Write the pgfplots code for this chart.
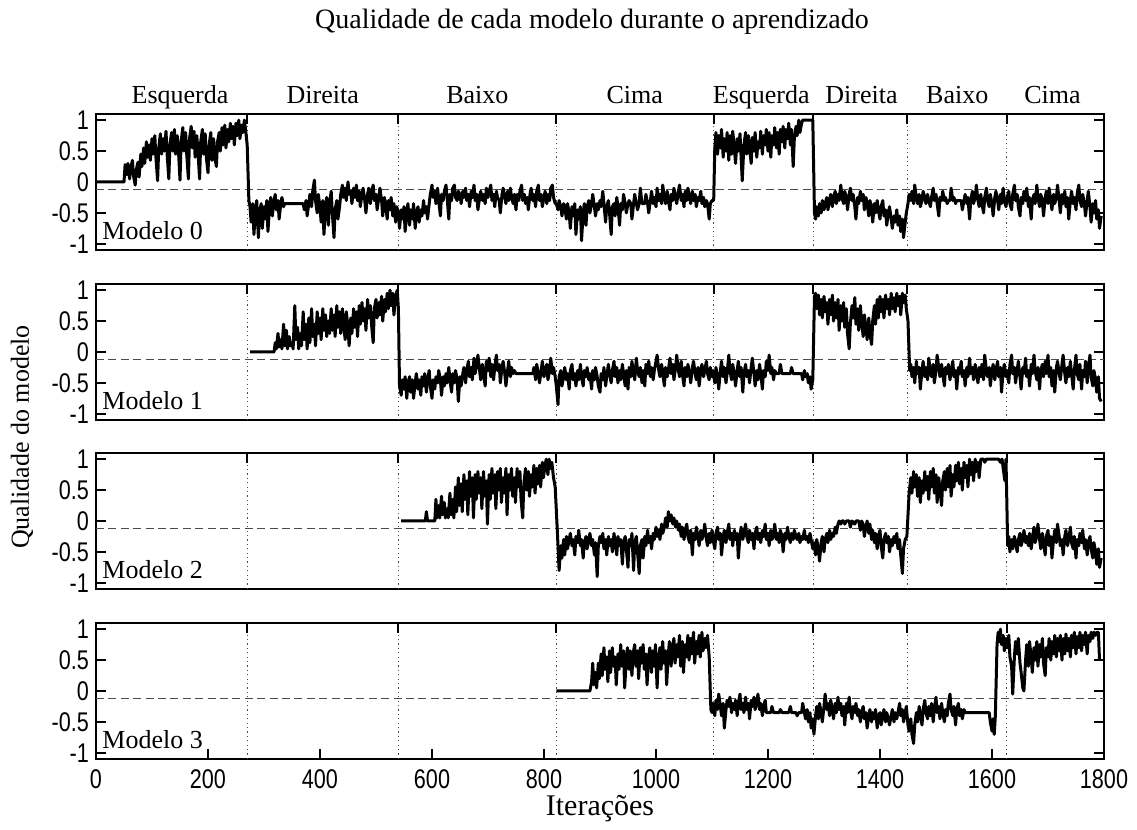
\documentclass[border=0pt]{standalone}
\usepackage{fontspec}
\setmainfont{Liberation Serif}
\newfontfamily\tickfam[FakeStretch=0.8]{Liberation Sans}
\usepackage{pgfplots}
\pgfplotsset{compat=1.18}
\newcommand{\lbl}{\fontsize{13}{15}\selectfont}
\newcommand{\ttl}{\fontsize{14}{16}\selectfont}
\newcommand{\tickfont}{\tickfam\fontsize{13.5}{15}\selectfont}
\pgfplotsset{
  panel/.style={
    scale only axis, width=504pt, height=68pt,
    xmin=0, xmax=1800, ymin=-1.1, ymax=1.1,
    ytick={-1,-0.5,0,0.5,1}, yticklabels={-1,-0.5,0,0.5,1},
    xtick=\empty,
    axis line style={line width=1.2pt},
    major tick length=5pt,
    tick style={black, line width=1pt},
    tick align=inside,
    ticklabel style={font=\tickfont},
    clip=false,
  },
  data/.style={black, line width=1.5pt, line join=round, mark=none},
  ref/.style={black!70, line width=0.6pt, dash pattern=on 4pt off 2.2pt, mark=none},
}
\begin{document}
\begin{tikzpicture}
\useasboundingbox (0,0) rectangle (568.5pt,415pt);
% ---------------- Modelo 0 ----------------
\begin{axis}[panel, at={(48pt,290pt)}, anchor=south west]
\pgfplotsinvokeforeach{270,540,822,1103,1281,1449,1626}{
  \draw[black!70, line width=0.5pt, dash pattern=on 0.6pt off 1.6pt] (axis cs:#1,-1.1) -- (axis cs:#1,1.1);
  \draw[black, line width=1pt] (axis cs:#1,1.1) -- (axis cs:#1,0.94);
}
\addplot[ref] coordinates {(0,-0.12) (1800,-0.12)};
\addplot[data] coordinates {
(0,0)(50,0)(52,0.28)(55,0.12)(57,0.30)(60,0.05)(62,0.22)(65,0.35)(67,0.10)(70,-0.05)(72,0.20)(75,0.32)(77,0.08)
(80,0.45)(82,0.25)(85,0.55)(87,0.30)(90,0.65)(92,0.40)(95,0.60)(97,0.35)
(100,0.70)(102,0.45)(105,0.75)(107,0.40)(110,0.02)(112,0.55)(115,0.78)(117,0.45)(120,0.70)(122,0.50)(125,0.82)(127,0.45)(130,0.05)(132,0.60)(135,0.80)(137,0.50)(140,0.85)(142,0.45)(145,0.75)(147,0.55)
(150,0.03)(152,0.65)(155,0.88)(157,0.50)(160,0.80)(162,0.45)(165,0.05)(167,0.70)(170,0.90)(172,0.55)(175,0.82)(177,0.40)(180,0.75)(182,0.50)(185,0.05)(187,0.65)(190,0.85)(192,0.45)(195,0.78)(197,0.40)
(200,0.15)(202,0.60)(205,0.80)(207,0.35)(210,0.70)(212,0.40)(215,0.25)(217,0.65)(220,0.80)(222,0.50)(225,0.88)(227,0.60)(230,0.92)(232,0.55)(235,0.85)(237,0.65)(240,0.95)(242,0.70)(245,0.90)(247,0.60)
(250,0.95)(252,0.75)(255,1.00)(257,0.70)(260,0.92)(262,0.80)(265,1.00)(267,0.85)(270,0.60)(273,-0.30)
(275,-0.40)(277,-0.65)(280,-0.35)(282,-0.85)(285,-0.45)(287,-0.30)(290,-0.90)(292,-0.50)(295,-0.35)(297,-0.75)(300,-0.40)(302,-0.60)(305,-0.30)(307,-0.80)(310,-0.40)(312,-0.25)(315,-0.55)(317,-0.35)(320,-0.20)(322,-0.45)(325,-0.30)(327,-0.60)(330,-0.35)(332,-0.25)(335,-0.40)(337,-0.35)
(340,-0.35)(370,-0.35)(372,-0.45)(375,-0.30)(377,-0.55)(380,-0.35)(382,-0.20)(385,-0.40)(387,-0.15)(390,0.03)(392,-0.30)(395,-0.50)(397,-0.20)(400,-0.40)(402,-0.65)(405,-0.30)(407,-0.85)(410,-0.40)(412,-0.25)(415,-0.70)(417,-0.35)(420,-0.15)(422,-0.50)(425,-0.90)(427,-0.45)(430,-0.30)(432,-0.60)(435,-0.40)(437,-0.20)
(440,-0.05)(442,-0.25)(445,-0.10)(447,-0.30)(450,0.00)(452,-0.20)(455,-0.15)(457,-0.35)(460,-0.10)(462,-0.25)(465,-0.05)(467,-0.30)(470,-0.15)(472,-0.40)(475,-0.20)(477,-0.10)(480,-0.30)(482,-0.50)(485,-0.20)(487,-0.10)(490,-0.35)(492,-0.15)(495,-0.05)(497,-0.30)(500,-0.20)(502,-0.45)(505,-0.25)(507,-0.10)(510,-0.30)(512,-0.55)(515,-0.25)(517,-0.35)(520,-0.60)(522,-0.30)(525,-0.45)(527,-0.25)(530,-0.55)(532,-0.35)(535,-0.65)(537,-0.40)
(540,-0.50)(542,-0.75)(545,-0.45)(547,-0.60)(550,-0.40)(552,-0.80)(555,-0.50)(557,-0.35)(560,-0.70)(562,-0.45)(565,-0.60)(567,-0.35)(570,-0.75)(572,-0.50)(575,-0.40)(577,-0.65)(580,-0.45)(582,-0.55)(585,-0.30)(587,-0.50)(590,-0.40)(592,-0.60)(595,-0.35)(597,-0.20)
(600,-0.05)(602,-0.25)(605,-0.15)(607,-0.35)(610,-0.10)(612,-0.30)(615,-0.55)(617,-0.20)(620,-0.30)(622,-0.15)(625,-0.05)(627,-0.25)(630,-0.60)(632,-0.20)(635,-0.30)(637,-0.10)(640,-0.05)(642,-0.25)(645,-0.30)(647,-0.15)(650,-0.20)(652,-0.35)(655,-0.15)(657,-0.25)(660,-0.10)(662,-0.30)(665,-0.20)(667,-0.40)(670,-0.15)(672,-0.25)(675,-0.05)(677,-0.30)(680,-0.20)(682,-0.45)(685,-0.25)(687,-0.15)(690,-0.30)(692,-0.20)(695,-0.35)(697,-0.10)
(700,-0.25)(702,-0.15)(705,-0.05)(707,-0.30)(710,-0.20)(712,-0.40)(715,-0.15)(717,-0.25)(720,-0.30)(722,-0.50)(725,-0.20)(727,-0.10)(730,-0.25)(732,-0.35)(735,-0.15)(737,-0.30)(740,-0.10)(742,-0.25)(745,-0.35)(747,-0.20)(750,-0.45)(752,-0.20)(755,-0.30)(757,-0.15)(760,-0.05)(762,-0.30)(765,-0.20)(767,-0.35)(770,-0.25)(772,-0.45)(775,-0.20)(777,-0.10)(780,-0.30)(782,-0.20)(785,-0.40)(787,-0.15)(790,-0.05)(792,-0.30)(795,-0.20)(797,-0.40)
(800,-0.25)(802,-0.15)(805,-0.35)(807,-0.20)(810,-0.30)(812,-0.10)(815,-0.05)(817,-0.25)(820,-0.35)
(822,-0.35)(825,-0.45)(827,-0.30)(830,-0.40)(832,-0.55)(835,-0.35)(837,-0.40)(840,-0.60)(842,-0.35)(845,-0.50)(847,-0.75)(850,-0.40)(852,-0.55)(855,-0.35)(857,-0.85)(860,-0.45)(862,-0.60)(865,-0.40)(867,-0.95)(870,-0.50)(872,-0.35)(875,-0.70)(877,-0.40)(880,-0.30)(882,-0.50)(885,-0.35)(887,-0.20)(890,-0.40)(892,-0.55)(895,-0.35)(897,-0.45)
(900,-0.30)(902,-0.40)(905,-0.15)(907,-0.35)(910,-0.65)(912,-0.40)(915,-0.30)(917,-0.50)(920,-0.85)(922,-0.40)(925,-0.35)(927,-0.55)(930,-0.25)(932,-0.40)(935,-0.70)(937,-0.35)(940,-0.45)(942,-0.20)(945,-0.35)(947,-0.50)(950,-0.35)(952,-0.30)(955,-0.35)(957,-0.60)(960,-0.35)(962,-0.20)(965,-0.35)(967,-0.45)(970,-0.35)(972,-0.10)
(975,-0.35)(980,-0.35)(982,-0.20)(985,-0.35)(987,-0.50)(990,-0.30)(992,-0.15)(995,-0.35)(997,-0.25)(1000,-0.40)(1002,-0.10)(1005,-0.30)(1007,-0.20)(1010,-0.35)(1012,-0.05)(1015,-0.25)(1017,-0.35)(1020,-0.15)(1022,-0.30)(1025,-0.45)(1027,-0.20)(1030,-0.30)(1032,-0.10)(1035,-0.25)(1037,-0.35)(1040,-0.15)(1042,-0.05)(1045,-0.30)(1047,-0.20)(1050,-0.40)
(1052,-0.15)(1055,-0.30)(1057,-0.10)(1060,-0.25)(1062,-0.35)(1065,-0.15)(1067,-0.30)(1070,-0.20)(1072,-0.40)(1075,-0.25)(1077,-0.30)(1080,-0.15)(1082,-0.35)(1085,-0.25)(1087,-0.40)(1090,-0.30)(1092,-0.35)(1095,-0.60)(1097,-0.35)(1100,-0.30)
(1103,-0.30)(1105,0.55)(1107,0.80)(1110,0.45)(1112,0.75)(1115,0.55)(1117,0.85)(1120,0.40)(1122,0.70)(1125,0.50)(1127,0.80)(1130,0.35)(1132,0.75)(1135,0.45)(1137,0.82)(1140,0.55)(1142,0.30)(1145,0.70)(1147,0.50)(1150,0.78)
(1152,0.40)(1154,0.02)(1157,0.60)(1160,0.80)(1162,0.45)(1165,0.75)(1167,0.55)(1170,0.30)(1172,0.72)(1175,0.50)(1177,0.80)(1180,0.40)(1182,0.65)(1185,0.55)(1187,0.82)(1190,0.45)(1192,0.75)(1195,0.60)(1197,0.85)(1200,0.50)
(1202,0.80)(1205,0.40)(1207,0.75)(1210,0.60)(1212,0.88)(1215,0.55)(1217,0.80)(1220,0.45)(1222,0.85)(1225,0.65)(1227,0.90)(1230,0.55)(1232,0.85)(1235,0.70)(1237,0.95)(1240,0.60)(1242,0.85)(1245,0.25)(1247,0.70)(1250,0.90)
(1252,0.75)(1255,1.00)(1257,0.80)(1260,0.95)(1262,1.00)(1280,1.00)(1283,-0.50)
(1285,-0.60)(1287,-0.40)(1290,-0.55)(1292,-0.35)(1295,-0.50)(1297,-0.30)(1300,-0.45)(1302,-0.35)(1305,-0.25)(1307,-0.45)(1310,-0.30)(1312,-0.20)(1315,-0.40)(1317,-0.25)(1320,-0.15)(1322,-0.35)(1325,-0.20)(1327,-0.30)(1330,-0.05)(1332,-0.25)(1335,-0.35)(1337,-0.15)(1340,-0.25)(1342,-0.45)(1345,-0.20)(1347,-0.10)(1350,-0.30)(1352,-0.20)(1355,-0.40)(1357,-0.60)(1360,-0.25)(1362,-0.35)(1365,-0.15)(1367,-0.30)(1370,-0.20)(1372,-0.45)(1375,-0.25)(1377,-0.35)(1380,-0.55)
(1382,-0.30)(1385,-0.40)(1387,-0.65)(1390,-0.35)(1392,-0.50)(1395,-0.30)(1397,-0.45)(1400,-0.60)(1402,-0.40)(1405,-0.30)(1407,-0.55)(1410,-0.45)(1412,-0.70)(1415,-0.50)(1417,-0.40)(1420,-0.60)(1422,-0.75)(1425,-0.55)(1427,-0.65)(1430,-0.45)(1432,-0.70)(1435,-0.55)(1437,-0.80)(1440,-0.60)(1442,-0.90)(1445,-0.65)(1447,-0.50)(1450,-0.35)
(1452,-0.20)(1455,-0.30)(1457,-0.15)(1460,-0.35)(1462,-0.05)(1465,-0.25)(1467,-0.35)(1470,-0.20)(1472,-0.40)(1475,-0.30)(1477,-0.15)(1480,-0.25)(1482,-0.35)(1485,-0.20)(1487,-0.30)(1490,-0.40)(1492,-0.25)(1495,-0.10)(1497,-0.30)(1500,-0.20)(1502,-0.35)(1505,-0.55)(1507,-0.25)(1510,-0.30)(1512,-0.15)(1515,-0.30)(1517,-0.25)(1520,-0.35)(1522,-0.30)(1525,-0.30)(1527,-0.10)(1530,-0.30)(1532,-0.25)(1535,-0.35)(1537,-0.30)(1540,-0.30)(1545,-0.30)(1547,-0.45)(1550,-0.30)
(1552,-0.20)(1555,-0.35)(1557,-0.25)(1560,-0.60)(1562,-0.30)(1565,-0.15)(1567,-0.35)(1570,-0.25)(1572,-0.05)(1575,-0.30)(1577,-0.40)(1580,-0.20)(1582,-0.35)(1585,-0.50)(1587,-0.25)(1590,-0.10)(1592,-0.30)(1595,-0.40)(1597,-0.20)(1600,-0.35)(1602,-0.55)(1605,-0.25)(1607,-0.15)(1610,-0.30)(1612,-0.45)(1615,-0.20)(1617,-0.35)(1620,-0.10)(1622,-0.30)(1625,-0.40)
(1627,-0.25)(1630,-0.15)(1632,-0.35)(1635,-0.45)(1637,-0.20)(1640,-0.05)(1642,-0.30)(1645,-0.20)(1647,-0.40)(1650,-0.55)(1652,-0.25)(1655,-0.35)(1657,-0.15)(1660,-0.30)(1662,-0.10)(1665,-0.40)(1667,-0.25)(1670,-0.60)(1672,-0.30)(1675,-0.20)(1677,-0.35)(1680,-0.05)(1682,-0.25)(1685,-0.40)(1687,-0.20)(1690,-0.30)(1692,-0.55)(1695,-0.25)(1697,-0.15)(1700,-0.35)
(1702,-0.10)(1705,-0.30)(1707,-0.45)(1710,-0.20)(1712,-0.35)(1715,-0.25)(1717,-0.05)(1720,-0.30)(1722,-0.50)(1725,-0.20)(1727,-0.35)(1730,-0.15)(1732,-0.40)(1735,-0.25)(1737,-0.60)(1740,-0.30)(1742,-0.15)(1745,-0.35)(1747,-0.25)(1750,-0.45)(1752,-0.20)(1755,-0.05)(1757,-0.30)(1760,-0.40)(1762,-0.20)(1765,-0.35)(1767,-0.55)(1770,-0.30)(1772,-0.15)(1775,-0.40)
(1777,-0.65)(1780,-0.35)(1782,-0.50)(1785,-0.30)(1787,-0.60)(1790,-0.45)(1792,-0.75)(1795,-0.55)
};
\node[anchor=base west, font=\lbl, inner sep=0pt, xshift=3pt, yshift=5pt] at (rel axis cs:0,0) {Modelo 0};
\node[anchor=base, font=\lbl, inner sep=0pt, yshift=5pt] at (axis cs:150,1.1) {Esquerda};
\node[anchor=base, font=\lbl, inner sep=0pt, yshift=5pt] at (axis cs:405,1.1) {Direita};
\node[anchor=base, font=\lbl, inner sep=0pt, yshift=5pt] at (axis cs:681,1.1) {Baixo};
\node[anchor=base, font=\lbl, inner sep=0pt, yshift=5pt] at (axis cs:962,1.1) {Cima};
\node[anchor=base, font=\lbl, inner sep=0pt, yshift=5pt] at (axis cs:1188,1.1) {Esquerda};
\node[anchor=base, font=\lbl, inner sep=0pt, yshift=5pt] at (axis cs:1367,1.1) {Direita};
\node[anchor=base, font=\lbl, inner sep=0pt, yshift=5pt] at (axis cs:1538,1.1) {Baixo};
\node[anchor=base, font=\lbl, inner sep=0pt, yshift=5pt] at (axis cs:1708,1.1) {Cima};
\end{axis}
% ---------------- Modelo 1 ----------------
\begin{axis}[panel, at={(48pt,205pt)}, anchor=south west]
\pgfplotsinvokeforeach{270,540,822,1103,1281,1449,1626}{
  \draw[black!70, line width=0.5pt, dash pattern=on 0.6pt off 1.6pt] (axis cs:#1,-1.1) -- (axis cs:#1,1.1);
  \draw[black, line width=1pt] (axis cs:#1,1.1) -- (axis cs:#1,0.94);
}
\addplot[ref] coordinates {(0,-0.12) (1800,-0.12)};
\addplot[data] coordinates {
(275,0)(318,0)
(320,0.15)(322,0.05)(325,0.30)(327,0.08)(330,0.20)(332,0.05)(335,0.45)(337,0.10)(340,0.35)(342,0.05)(345,0.25)(347,0.10)(350,0.15)(352,0.05)(355,0.75)(357,0.20)(360,0.40)(362,0.05)(365,0.30)
(367,0.10)(370,0.65)(372,0.20)(375,0.45)(377,0.05)(380,0.55)(382,0.15)(385,0.70)(387,0.25)(390,0.45)(392,0.10)(395,0.65)(397,0.30)(400,0.55)(402,0.20)(405,0.70)(407,0.35)(410,0.60)(412,0.25)(415,0.50)
(417,0.30)(420,0.70)(422,0.35)(425,0.60)(427,0.25)(430,0.75)(432,0.40)(435,0.65)(437,0.30)(440,0.70)(442,0.45)(445,0.20)(447,0.65)(450,0.40)(452,0.10)(455,0.55)(457,0.30)(460,0.70)(462,0.40)(465,0.65)
(467,0.25)(470,0.75)(472,0.45)(475,0.80)(477,0.50)(480,0.70)(482,0.35)(485,0.85)(487,0.55)(490,0.75)(492,0.45)(495,0.15)(497,0.70)(500,0.85)(502,0.55)(505,0.80)(507,0.60)(510,0.90)(512,0.50)(515,0.85)
(517,0.65)(520,0.95)(522,0.70)(525,1.00)(527,0.75)(530,0.95)(532,0.60)(535,0.90)(538,1.00)(540,0.70)(542,-0.55)
(545,-0.70)(547,-0.45)(550,-0.60)(552,-0.40)(555,-0.75)(557,-0.50)(560,-0.40)(562,-0.65)(565,-0.45)(567,-0.75)(570,-0.50)(572,-0.35)(575,-0.60)(577,-0.45)(580,-0.70)(582,-0.40)(585,-0.55)(587,-0.35)(590,-0.65)(592,-0.45)(595,-0.30)(597,-0.55)(600,-0.75)(602,-0.45)(605,-0.60)(607,-0.40)(610,-0.50)(612,-0.30)(615,-0.45)(617,-0.70)(620,-0.40)(622,-0.55)(625,-0.35)(627,-0.50)(630,-0.25)(632,-0.45)(635,-0.65)(637,-0.35)(640,-0.50)
(642,-0.30)(645,-0.45)(647,-0.80)(650,-0.40)(652,-0.55)(655,-0.35)(657,-0.25)(660,-0.50)(662,-0.30)(665,-0.15)(667,-0.40)(670,-0.25)(672,-0.45)(675,-0.10)(677,-0.35)(680,-0.20)(682,-0.05)(685,-0.30)(687,-0.45)(690,-0.20)(692,-0.35)(695,-0.55)(697,-0.15)(700,-0.30)(702,-0.10)(705,-0.40)(707,-0.20)(710,-0.45)(712,-0.25)(715,-0.05)(717,-0.30)(720,-0.20)(722,-0.50)(725,-0.25)(727,-0.15)(730,-0.35)(732,-0.55)(735,-0.30)(737,-0.15)(740,-0.40)(742,-0.25)(745,-0.35)(747,-0.30)(750,-0.35)
(780,-0.35)(782,-0.25)(785,-0.45)(787,-0.20)(790,-0.35)(792,-0.50)(795,-0.30)(797,-0.15)(800,-0.40)(802,-0.30)(805,-0.20)(807,-0.45)(810,-0.30)(812,-0.10)(815,-0.35)(817,-0.25)(820,-0.40)
(822,-0.55)(825,-0.85)(827,-0.40)(830,-0.30)(832,-0.55)(835,-0.40)(837,-0.25)(840,-0.45)(842,-0.35)(845,-0.60)(847,-0.30)(850,-0.20)(852,-0.45)(855,-0.35)(857,-0.55)(860,-0.30)(862,-0.45)(865,-0.20)(867,-0.40)(870,-0.55)(872,-0.30)(875,-0.40)(877,-0.25)(880,-0.45)(882,-0.35)(885,-0.60)(887,-0.30)(890,-0.45)(892,-0.25)(895,-0.40)(897,-0.55)(900,-0.65)(902,-0.35)(905,-0.45)(907,-0.25)(910,-0.55)(912,-0.40)(915,-0.20)(917,-0.35)(920,-0.50)
(922,-0.30)(925,-0.15)(927,-0.40)(930,-0.25)(932,-0.50)(935,-0.30)(937,-0.45)(940,-0.20)(942,-0.35)(945,-0.55)(947,-0.30)(950,-0.60)(952,-0.25)(955,-0.40)(957,-0.15)(960,-0.35)(962,-0.45)(965,-0.10)(967,-0.30)(970,-0.40)(972,-0.25)(975,-0.50)(977,-0.30)(980,-0.55)(982,-0.20)(985,-0.35)(987,-0.15)(990,-0.40)(992,-0.25)(995,-0.45)(997,-0.30)(1000,-0.15)(1002,-0.05)(1005,-0.30)(1007,-0.40)(1010,-0.20)(1012,-0.35)(1015,-0.55)(1017,-0.25)(1020,-0.40)
(1022,-0.30)(1025,-0.10)(1027,-0.35)(1030,-0.20)(1032,-0.45)(1035,-0.25)(1037,-0.05)(1040,-0.30)(1042,-0.40)(1045,-0.15)(1047,-0.35)(1050,-0.55)(1052,-0.25)(1055,-0.40)(1057,-0.20)(1060,-0.35)(1062,-0.50)(1065,-0.25)(1067,-0.15)(1070,-0.35)(1072,-0.45)(1075,-0.25)(1077,-0.55)(1080,-0.30)(1082,-0.20)(1085,-0.40)(1087,-0.30)(1090,-0.15)(1092,-0.35)(1095,-0.45)(1097,-0.25)(1100,-0.40)
(1102,-0.30)(1105,-0.50)(1107,-0.25)(1110,-0.40)(1112,-0.60)(1115,-0.30)(1117,-0.15)(1120,-0.40)(1122,-0.25)(1125,-0.50)(1127,-0.35)(1130,-0.05)(1132,-0.30)(1135,-0.45)(1137,-0.20)(1140,-0.35)(1142,-0.55)(1145,-0.30)(1147,-0.15)(1150,-0.40)(1152,-0.25)(1155,-0.65)(1157,-0.35)(1160,-0.20)(1162,-0.40)(1165,-0.30)(1167,-0.50)(1170,-0.25)(1172,-0.10)(1175,-0.35)(1177,-0.55)(1180,-0.30)(1182,-0.45)(1185,-0.20)(1187,-0.35)(1190,-0.60)(1192,-0.30)(1195,-0.40)(1197,-0.15)(1200,-0.30)
(1202,-0.05)(1205,-0.35)(1207,-0.25)(1210,-0.45)(1212,-0.30)(1215,-0.35)(1220,-0.35)(1222,-0.20)(1225,-0.35)(1240,-0.35)(1242,-0.25)(1245,-0.35)(1260,-0.35)(1262,-0.45)(1265,-0.30)(1267,-0.40)(1270,-0.35)(1272,-0.50)(1275,-0.40)(1277,-0.60)(1280,-0.45)
(1283,0.90)(1285,0.95)(1287,0.70)(1290,0.92)(1292,0.60)(1295,0.85)(1297,0.55)(1300,0.90)(1302,0.65)(1305,0.80)(1307,0.45)(1310,0.85)(1312,0.60)(1315,0.92)(1317,0.50)(1320,0.80)(1322,0.55)(1325,0.85)(1327,0.35)(1330,0.75)
(1332,0.50)(1335,0.80)(1337,0.40)(1340,0.70)(1342,0.30)(1345,0.05)(1347,0.45)(1350,0.75)(1352,0.55)(1355,0.88)(1357,0.45)(1360,0.70)(1362,0.35)(1365,0.75)(1367,0.50)(1370,0.25)(1372,0.60)(1375,0.40)(1377,0.20)(1380,0.55)
(1382,0.30)(1385,0.12)(1387,0.50)(1390,0.75)(1392,0.45)(1395,0.85)(1397,0.55)(1400,0.90)(1402,0.65)(1405,0.85)(1407,0.55)(1410,0.92)(1412,0.70)(1415,0.85)(1417,0.60)(1420,0.95)(1422,0.70)(1425,0.88)(1427,0.65)(1430,0.95)
(1432,0.75)(1435,0.90)(1437,0.60)(1440,0.95)(1442,0.80)(1445,0.92)(1447,0.70)(1450,0.50)(1453,-0.30)
(1455,-0.20)(1457,-0.40)(1460,-0.25)(1462,-0.50)(1465,-0.15)(1467,-0.35)(1470,-0.25)(1472,-0.60)(1475,-0.30)(1477,-0.15)(1480,-0.40)(1482,-0.25)(1485,-0.45)(1487,-0.10)(1490,-0.30)(1492,-0.40)(1495,-0.20)(1497,-0.50)(1500,-0.30)
(1502,-0.05)(1505,-0.25)(1507,-0.40)(1510,-0.20)(1512,-0.35)(1515,-0.55)(1517,-0.25)(1520,-0.35)(1522,-0.20)(1525,-0.45)(1527,-0.30)(1530,-0.15)(1532,-0.40)(1535,-0.30)(1537,-0.60)(1540,-0.25)(1542,-0.35)(1545,-0.15)(1547,-0.40)(1550,-0.30)
(1552,-0.55)(1555,-0.25)(1557,-0.40)(1560,-0.10)(1562,-0.35)(1565,-0.25)(1567,-0.45)(1570,-0.20)(1572,-0.35)(1575,-0.50)(1577,-0.25)(1580,-0.40)(1582,-0.20)(1585,-0.45)(1587,-0.05)(1590,-0.30)(1592,-0.40)(1595,-0.25)(1597,-0.55)(1600,-0.30)
(1602,-0.20)(1605,-0.45)(1607,-0.30)(1610,-0.15)(1612,-0.40)(1615,-0.25)(1617,-0.65)(1620,-0.30)(1622,-0.20)(1625,-0.40)(1627,-0.30)(1630,-0.50)(1632,-0.20)(1635,-0.05)(1637,-0.35)(1640,-0.25)(1642,-0.50)(1645,-0.30)(1647,-0.15)(1650,-0.40)
(1652,-0.60)(1655,-0.25)(1657,-0.35)(1660,-0.10)(1662,-0.40)(1665,-0.30)(1667,-0.55)(1670,-0.20)(1672,-0.35)(1675,-0.05)(1677,-0.30)(1680,-0.45)(1682,-0.25)(1685,-0.60)(1687,-0.30)(1690,-0.20)(1692,-0.40)(1695,-0.15)(1697,-0.35)(1700,-0.05)
(1702,-0.40)(1705,-0.25)(1707,-0.55)(1710,-0.30)(1712,-0.65)(1715,-0.25)(1717,-0.15)(1720,-0.35)(1722,-0.45)(1725,-0.20)(1727,-0.05)(1730,-0.35)(1732,-0.50)(1735,-0.25)(1737,-0.40)(1740,-0.15)(1742,-0.35)(1745,-0.60)(1747,-0.30)(1750,-0.05)
(1752,-0.35)(1755,-0.45)(1757,-0.20)(1760,-0.60)(1762,-0.30)(1765,-0.40)(1767,-0.15)(1770,-0.50)(1772,-0.25)(1775,-0.05)(1777,-0.40)(1780,-0.55)(1782,-0.30)(1785,-0.45)(1787,-0.65)(1790,-0.40)(1792,-0.75)(1795,-0.80)
};
\node[anchor=base west, font=\lbl, inner sep=0pt, xshift=3pt, yshift=5pt] at (rel axis cs:0,0) {Modelo 1};
\end{axis}
% ---------------- Modelo 2 ----------------
\begin{axis}[panel, at={(48pt,120.5pt)}, anchor=south west]
\pgfplotsinvokeforeach{270,540,822,1103,1281,1449,1626}{
  \draw[black!70, line width=0.5pt, dash pattern=on 0.6pt off 1.6pt] (axis cs:#1,-1.1) -- (axis cs:#1,1.1);
  \draw[black, line width=1pt] (axis cs:#1,1.1) -- (axis cs:#1,0.94);
}
\addplot[ref] coordinates {(0,-0.12) (1800,-0.12)};
\addplot[data] coordinates {
(545,0)(588,0)(590,0.15)(592,0)(605,0)
(607,0.35)(609,0.05)(612,0.25)(614,0.05)(617,0.40)(619,0.10)(622,0.30)(624,0.05)(627,0.20)(629,0.05)(632,0.45)(634,0.10)(637,0.35)(639,0.05)(642,0.55)(644,0.15)(647,0.70)(649,0.25)(652,0.60)
(654,0.15)(657,0.75)(659,0.35)(662,0.65)(664,0.10)(667,0.80)(669,0.40)(672,0.70)(674,0.05)(677,0.75)(679,0.35)(682,0.80)(684,0.45)(687,0.70)(689,0.20)(692,0.80)(694,0.40)(697,0.65)(699,-0.05)(702,0.75)
(704,0.35)(707,0.85)(709,0.45)(712,0.75)(714,0.20)(717,0.80)(719,0.50)(722,0.85)(724,0.30)(727,0.70)(729,0.45)(732,0.85)(734,0.10)(737,0.75)(739,0.50)(742,0.85)(744,0.40)(747,0.70)(749,0.30)(752,0.85)
(754,0.55)(757,0.80)(759,0.35)(762,0.05)(764,0.60)(767,0.85)(769,0.50)(772,0.80)(774,0.40)(777,0.75)(779,0.55)(782,0.90)(784,0.45)(787,0.85)(789,0.60)(792,0.90)(794,0.55)(797,0.95)(799,0.70)(802,0.90)
(804,1.00)(807,0.75)(809,1.00)(812,0.85)(814,0.95)(817,0.70)(820,0.55)(824,-0.20)
(827,-0.80)(830,-0.40)(832,-0.60)(835,-0.30)(837,-0.55)(840,-0.25)(842,-0.45)(845,-0.30)(847,-0.20)(850,-0.40)(852,-0.30)(855,-0.55)(857,-0.25)(860,-0.35)(862,-0.15)(865,-0.40)(867,-0.30)(870,-0.60)(872,-0.35)(875,-0.25)(877,-0.45)(880,-0.30)(882,-0.20)(885,-0.40)(887,-0.30)(890,-0.55)(892,-0.35)(895,-0.90)(897,-0.40)(900,-0.25)
(902,-0.35)(905,-0.20)(907,-0.45)(910,-0.30)(912,-0.55)(915,-0.25)(917,-0.40)(920,-0.30)(922,-0.50)(925,-0.20)(927,-0.35)(930,-0.55)(932,-0.25)(935,-0.40)(937,-0.30)(940,-0.70)(942,-0.35)(945,-0.25)(947,-0.45)(950,-0.75)(952,-0.30)(955,-0.40)(957,-0.20)(960,-0.80)(962,-0.35)(965,-0.25)(967,-0.50)(970,-0.85)(972,-0.40)(975,-0.30)
(977,-0.60)(980,-0.25)(982,-0.40)(985,-0.15)(987,-0.35)(990,-0.25)(992,-0.45)(995,-0.20)(997,-0.30)(1000,-0.10)(1002,-0.25)(1005,-0.15)(1007,-0.30)(1010,-0.05)(1012,-0.20)(1015,-0.10)(1017,0.05)(1020,-0.10)(1022,0.15)(1025,0.00)(1027,0.10)(1030,-0.05)(1032,0.05)(1035,-0.10)(1037,0.00)(1040,-0.15)(1042,-0.05)(1045,-0.25)(1047,-0.10)(1050,-0.30)
(1052,-0.15)(1055,-0.05)(1057,-0.25)(1060,-0.35)(1062,-0.15)(1065,-0.55)(1067,-0.20)(1070,-0.30)(1072,-0.10)(1075,-0.25)(1077,-0.40)(1080,-0.15)(1082,-0.30)(1085,-0.20)(1087,-0.05)(1090,-0.30)(1092,-0.40)(1095,-0.20)(1097,-0.35)(1100,-0.15)
(1102,-0.30)(1105,-0.45)(1107,-0.20)(1110,-0.10)(1112,-0.30)(1115,-0.20)(1117,-0.55)(1120,-0.25)(1122,-0.15)(1125,-0.35)(1127,-0.20)(1130,-0.05)(1132,-0.30)(1135,-0.20)(1137,-0.40)(1140,-0.15)(1142,-0.30)(1145,-0.20)(1147,-0.60)(1150,-0.25)
(1152,-0.10)(1155,-0.30)(1157,-0.20)(1160,-0.05)(1162,-0.25)(1165,-0.35)(1167,-0.15)(1170,-0.30)(1172,-0.20)(1175,-0.45)(1177,-0.20)(1180,-0.10)(1182,-0.30)(1185,-0.20)(1187,-0.35)(1190,-0.15)(1192,-0.25)(1195,-0.05)(1197,-0.30)(1200,-0.20)
(1202,-0.40)(1205,-0.15)(1207,-0.30)(1210,-0.25)(1212,-0.05)(1215,-0.30)(1217,-0.20)(1220,-0.35)(1222,-0.15)(1225,-0.25)(1227,-0.50)(1230,-0.20)(1232,-0.30)(1235,-0.10)(1237,-0.25)(1240,-0.35)(1242,-0.20)(1245,-0.30)(1247,-0.15)(1250,-0.25)
(1252,-0.30)(1255,-0.20)(1257,-0.35)(1260,-0.25)(1262,-0.30)(1265,-0.15)(1267,-0.30)(1270,-0.25)(1272,-0.35)(1275,-0.20)(1277,-0.30)(1280,-0.45)
(1282,-0.35)(1285,-0.55)(1287,-0.30)(1290,-0.45)(1292,-0.65)(1295,-0.35)(1297,-0.25)(1300,-0.50)(1302,-0.30)(1305,-0.20)(1307,-0.35)(1310,-0.15)(1312,-0.30)(1315,-0.20)(1317,-0.25)(1320,-0.10)(1322,-0.20)(1325,-0.05)(1327,0.00)(1330,-0.05)
(1332,0.00)(1335,0.00)(1337,-0.05)(1340,0.00)(1345,0.00)(1347,-0.10)(1350,0.00)(1355,-0.05)(1357,0.00)(1362,0.00)(1365,-0.15)(1367,0.00)(1370,-0.05)(1372,-0.25)(1375,-0.10)(1377,0.00)(1380,-0.20)(1382,-0.05)(1385,-0.30)(1387,-0.15)
(1390,-0.35)(1392,-0.20)(1395,-0.45)(1397,-0.25)(1400,-0.15)(1402,-0.40)(1405,-0.60)(1407,-0.30)(1410,-0.20)(1412,-0.35)(1415,-0.25)(1417,-0.50)(1420,-0.30)(1422,-0.40)(1425,-0.25)(1427,-0.35)(1430,-0.20)(1432,-0.45)(1435,-0.30)(1437,-0.55)
(1440,-0.85)(1442,-0.45)(1445,-0.30)(1448,-0.25)
(1452,0.45)(1455,0.70)(1457,0.45)(1460,0.80)(1462,0.55)(1465,0.75)(1467,0.40)(1470,0.70)(1472,0.30)(1475,0.65)(1477,0.45)(1480,0.80)(1482,0.50)(1485,0.72)(1487,0.35)(1490,0.80)(1492,0.55)(1495,0.85)(1497,0.45)(1500,0.75)
(1502,0.30)(1505,0.70)(1507,0.50)(1510,0.25)(1512,0.65)(1515,0.80)(1517,0.50)(1520,0.85)(1522,0.55)(1525,0.90)(1527,0.40)(1530,0.75)(1532,0.55)(1535,0.90)(1537,0.65)(1540,0.95)(1542,0.60)(1545,0.85)(1547,0.50)(1550,0.95)
(1552,0.70)(1555,0.90)(1557,0.55)(1560,1.00)(1562,0.75)(1565,0.95)(1567,0.65)(1570,1.00)(1572,0.80)(1575,0.95)(1577,0.70)(1580,1.00)(1585,1.00)(1587,0.95)(1590,1.00)(1612,1.00)(1615,0.95)(1618,1.00)(1620,0.85)(1623,0.65)(1625,1.00)
(1628,-0.40)(1630,-0.25)(1632,-0.50)(1635,-0.30)(1637,-0.45)(1640,-0.25)(1642,-0.35)(1645,-0.50)(1647,-0.30)(1650,-0.20)(1652,-0.40)(1655,-0.30)(1657,-0.15)(1660,-0.35)(1662,-0.25)(1665,-0.40)(1667,-0.20)(1670,-0.45)(1672,-0.30)(1675,-0.10)
(1677,-0.35)(1680,-0.25)(1682,-0.05)(1685,-0.30)(1687,-0.45)(1690,-0.20)(1692,-0.35)(1695,-0.55)(1697,-0.25)(1700,-0.15)(1702,-0.40)(1705,-0.25)(1707,-0.60)(1710,-0.30)(1712,-0.15)(1715,-0.35)(1717,-0.05)(1720,-0.25)(1722,-0.40)(1725,-0.30)
(1727,-0.55)(1730,-0.25)(1732,-0.15)(1735,-0.40)(1737,-0.30)(1740,-0.10)(1742,-0.35)(1745,-0.45)(1747,-0.25)(1750,-0.60)(1752,-0.30)(1755,-0.40)(1757,-0.20)(1760,-0.35)(1762,-0.15)(1765,-0.45)(1767,-0.30)(1770,-0.55)(1772,-0.35)(1775,-0.25)
(1777,-0.45)(1780,-0.60)(1782,-0.35)(1785,-0.50)(1787,-0.70)(1790,-0.45)(1792,-0.75)(1795,-0.60)
};
\node[anchor=base west, font=\lbl, inner sep=0pt, xshift=3pt, yshift=5pt] at (rel axis cs:0,0) {Modelo 2};
\end{axis}
% ---------------- Modelo 3 ----------------
\begin{axis}[panel, at={(48pt,35.5pt)}, anchor=south west,
  xtick={0,200,400,600,800,1000,1200,1400,1600,1800},
  xticklabels={0,200,400,600,800,1000,1200,1400,1600,1800},
  xtick pos=left, xticklabel style={yshift=-2pt}]
\pgfplotsinvokeforeach{270,540,822,1103,1281,1449,1626}{
  \draw[black!70, line width=0.5pt, dash pattern=on 0.6pt off 1.6pt] (axis cs:#1,-1.1) -- (axis cs:#1,1.1);
  \draw[black, line width=1pt] (axis cs:#1,1.1) -- (axis cs:#1,0.94);
}
\addplot[ref] coordinates {(0,-0.12) (1800,-0.12)};
\addplot[data] coordinates {
(822,0)(882,0)
(885,0.15)(887,0.45)(889,0.10)(892,0.30)(894,0.05)(897,0.45)(899,0.20)(902,0.60)(904,0.25)(907,0.70)(909,0.35)(912,0.55)(914,0.15)(917,0.65)(919,0.30)(922,0.70)(924,0.40)(927,0.55)(929,0.10)
(932,0.60)(934,0.35)(937,0.75)(939,0.40)(942,0.65)(944,0.05)(947,0.50)(949,0.70)(952,0.35)(954,0.65)(957,0.25)(959,0.60)(962,0.75)(964,0.40)(967,0.65)(969,0.20)(972,0.70)(974,0.45)(977,0.75)(979,0.35)
(982,0.60)(984,0.10)(987,0.55)(989,0.70)(992,0.30)(994,0.65)(997,0.40)(999,0.75)(1002,0.05)(1004,0.50)(1007,0.70)(1009,0.35)(1012,0.80)(1014,0.45)(1017,0.65)(1019,0.10)(1022,0.60)(1024,0.80)(1027,0.40)(1029,0.70)
(1032,0.85)(1034,0.45)(1037,0.75)(1039,0.55)(1042,0.90)(1044,0.40)(1047,0.80)(1049,0.30)(1052,0.75)(1054,0.55)(1057,0.90)(1059,0.50)(1062,0.85)(1064,0.60)(1067,0.95)(1069,0.45)(1072,0.80)(1074,0.60)(1077,0.90)(1079,0.55)
(1082,0.95)(1084,0.65)(1087,0.85)(1089,0.70)(1092,0.90)(1095,0.55)
(1098,-0.30)(1100,-0.35)(1102,-0.20)(1105,-0.40)(1107,-0.15)(1110,-0.30)(1112,-0.05)(1115,-0.25)(1117,-0.40)(1120,-0.20)(1122,-0.60)(1125,-0.30)(1127,-0.15)(1130,-0.25)(1132,-0.10)(1135,-0.35)(1137,-0.20)(1140,-0.30)(1142,-0.15)(1145,-0.40)
(1147,-0.20)(1150,-0.05)(1152,-0.30)(1155,-0.20)(1157,-0.35)(1160,-0.10)(1162,-0.30)(1165,-0.20)(1167,-0.45)(1170,-0.15)(1172,-0.25)(1175,-0.10)(1177,-0.30)(1180,-0.20)(1182,-0.05)(1185,-0.30)(1187,-0.20)(1190,-0.40)(1192,-0.25)(1195,-0.15)
(1197,-0.35)(1200,-0.35)(1205,-0.35)(1207,-0.25)(1210,-0.35)(1220,-0.35)(1222,-0.30)(1225,-0.35)(1237,-0.35)(1240,-0.25)(1242,-0.35)(1250,-0.35)(1252,-0.40)(1255,-0.35)(1260,-0.35)(1262,-0.20)(1265,-0.35)(1267,-0.45)(1270,-0.30)(1272,-0.50)(1275,-0.35)(1277,-0.60)(1280,-0.45)
(1282,-0.70)(1285,-0.40)(1287,-0.25)(1290,-0.45)(1292,-0.20)(1295,-0.35)(1297,-0.50)(1300,-0.25)(1302,-0.05)(1305,-0.30)(1307,-0.20)(1310,-0.40)(1312,-0.15)(1315,-0.30)(1317,-0.45)(1320,-0.20)(1322,-0.35)(1325,-0.10)(1327,-0.30)(1330,-0.20)
(1332,-0.40)(1335,-0.25)(1337,-0.55)(1340,-0.20)(1342,-0.35)(1345,-0.10)(1347,-0.30)(1350,-0.45)(1352,-0.25)(1355,-0.35)(1357,-0.20)(1360,-0.40)(1362,-0.30)(1365,-0.50)(1367,-0.35)(1370,-0.25)(1372,-0.45)(1375,-0.35)(1377,-0.60)(1380,-0.40)
(1382,-0.30)(1385,-0.50)(1387,-0.35)(1390,-0.45)(1392,-0.30)(1395,-0.60)(1397,-0.40)(1400,-0.35)(1402,-0.55)(1405,-0.40)(1407,-0.30)(1410,-0.50)(1412,-0.35)(1415,-0.45)(1417,-0.55)(1420,-0.40)(1422,-0.30)(1425,-0.50)(1427,-0.35)(1430,-0.45)
(1432,-0.35)(1435,-0.20)(1437,-0.40)(1440,-0.30)(1442,-0.50)(1445,-0.35)(1447,-0.25)(1450,-0.55)(1452,-0.65)(1455,-0.45)(1457,-0.70)(1460,-0.85)(1462,-0.55)(1465,-0.35)(1467,-0.50)(1470,-0.25)(1472,-0.40)(1475,-0.55)(1477,-0.30)(1480,-0.15)
(1482,-0.35)(1485,-0.45)(1487,-0.25)(1490,-0.40)(1492,-0.20)(1495,-0.50)(1497,-0.30)(1500,-0.10)(1502,-0.35)(1505,-0.25)(1507,-0.45)(1510,-0.20)(1512,-0.35)(1515,-0.50)(1517,-0.30)(1520,-0.40)(1522,-0.20)(1525,-0.05)(1527,-0.30)(1530,-0.40)
(1532,-0.25)(1535,-0.55)(1537,-0.30)(1540,-0.20)(1542,-0.40)(1545,-0.30)(1547,-0.45)(1550,-0.30)(1552,-0.35)(1595,-0.35)(1597,-0.50)(1600,-0.65)(1602,-0.45)(1604,-0.70)(1606,-0.40)
(1609,0.75)(1611,0.95)(1613,0.80)(1615,1.00)(1617,0.75)(1620,0.90)(1622,0.65)(1625,0.85)(1627,0.70)(1630,0.90)(1632,0.55)(1635,0.40)(1637,-0.05)(1640,0.55)(1642,0.80)(1645,0.60)(1647,0.85)(1650,0.45)(1652,0.30)
(1655,0.05)(1657,0.00)(1660,0.50)(1662,0.75)(1665,0.40)(1667,0.80)(1670,0.55)(1672,0.30)(1675,0.70)(1677,0.50)(1680,0.80)(1682,0.40)(1685,0.75)(1687,0.55)(1690,0.85)(1692,0.45)(1695,0.25)(1697,0.70)(1700,0.55)(1702,0.85)
(1705,0.50)(1707,0.80)(1710,0.60)(1712,0.90)(1715,0.55)(1717,0.85)(1720,0.65)(1722,0.90)(1725,0.50)(1727,0.85)(1730,0.60)(1732,0.92)(1735,0.65)(1737,0.85)(1740,0.55)(1742,0.90)(1745,0.70)(1747,0.95)(1750,0.60)(1752,0.88)
(1755,0.70)(1757,0.95)(1760,0.65)(1762,0.90)(1765,0.75)(1767,0.95)(1770,0.60)(1772,0.90)(1775,0.80)(1777,0.95)(1780,0.85)(1782,0.95)(1785,0.90)(1787,0.95)(1790,0.95)(1792,0.50)
};
\node[anchor=base west, font=\lbl, inner sep=0pt, xshift=3pt, yshift=5pt] at (rel axis cs:0,0) {Modelo 3};
\end{axis}
% ---------------- labels ----------------
\node[anchor=base, font=\ttl] at (296pt,400.5pt) {Qualidade de cada modelo durante o aprendizado};
\node[font=\lbl, rotate=90] at (11pt,196.5pt) {Qualidade do modelo};
\node[anchor=base, font=\fontsize{15}{17}\selectfont] at (300pt,7pt) {Iterações};
\end{tikzpicture}
\end{document}
